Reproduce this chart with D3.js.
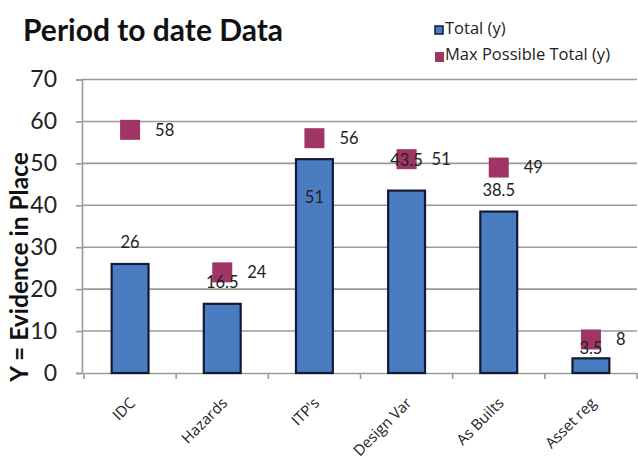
<!DOCTYPE html>
<html><head><meta charset="utf-8">
<script src="https://cdn.jsdelivr.net/npm/d3@7"></script>
<style>body{margin:0;background:#fff}svg{display:block}</style>
</head><body>
<script>
const categories = ["IDC","Hazards","ITP's","Design Var","As Builts","Asset reg"];
const totalValues = [26,16.5,51,43.5,38.5,3.5];
const maxValues = [58,24,56,51,49,8];
const yTicks = [0,10,20,30,40,50,60,70];
// label placement offsets (px) relative to bar top, mimicking the original
const totalLabelDy = [-22,-22,38,-30,-21,-10];

const W=638,H=463;
const svg=d3.select("body").append("svg").attr("width",W).attr("height",H);
const font="Lato, 'Open Sans', sans-serif";
const font2="'Open Sans', Lato, sans-serif";
const x=d3.scaleBand().domain(categories).range([84,637]).padding(0);
const y=d3.scaleLinear().domain([0,70]).range([373,79.5]);

// gridlines
svg.append("g").selectAll("line").data(yTicks.filter(d=>d>0)).join("line")
 .attr("x1",82).attr("x2",637).attr("y1",d=>y(d)).attr("y2",d=>y(d))
 .attr("stroke","#9a9a9a").attr("stroke-width",1.6);

// y axis
const ya=svg.append("g").attr("transform","translate(82,0)").call(d3.axisLeft(y).tickValues(yTicks).tickSize(6).tickPadding(19));
ya.select(".domain").attr("stroke","#9a9a9a").attr("stroke-width",1.6);
ya.selectAll(".tick line").attr("stroke","#9a9a9a").attr("stroke-width",1.6);
ya.selectAll("text").attr("font-family",font).attr("font-size",23).attr("fill","#222");

// x axis
const xa=svg.append("g").attr("transform","translate(0,373)").call(d3.axisBottom(x).tickSize(0).tickFormat(""));
xa.select(".domain").attr("stroke","#9a9a9a").attr("stroke-width",1.6);
const bounds=[...categories.map(c=>x(c)), x.range()[1]];
svg.append("g").selectAll("line").data(bounds).join("line")
 .attr("x1",d=>d).attr("x2",d=>d).attr("y1",373).attr("y2",379)
 .attr("stroke","#9a9a9a").attr("stroke-width",1.6);
svg.append("g").selectAll("text").data(categories).join("text")
 .attr("transform",d=>`translate(${x(d)+x.bandwidth()/2+6},404) rotate(-45)`)
 .attr("text-anchor","end").attr("font-family",font2).attr("font-size",15).attr("fill","#222")
 .text(d=>d);

// bars
const bw=x.bandwidth()*0.4;
svg.append("g").selectAll("rect").data(totalValues).join("rect")
 .attr("x",(d,i)=>x(categories[i])+x.bandwidth()/2-bw/2)
 .attr("y",d=>y(d)).attr("width",bw).attr("height",d=>y(0)-y(d))
 .attr("fill","#4a7cc1").attr("stroke","#141a33").attr("stroke-width",2.2);

// markers
const ms=20;
svg.append("g").selectAll("rect").data(maxValues).join("rect")
 .attr("x",(d,i)=>x(categories[i])+x.bandwidth()/2-ms/2)
 .attr("y",d=>y(d)-ms/2).attr("width",ms).attr("height",ms)
 .attr("fill","#a03565");

// total labels
svg.append("g").selectAll("text").data(totalValues).join("text")
 .attr("x",(d,i)=>x(categories[i])+x.bandwidth()/2)
 .attr("y",(d,i)=>y(d)+totalLabelDy[i]).attr("dy","0.35em")
 .attr("text-anchor","middle").attr("font-family",font).attr("font-size",16.5).attr("fill","#222")
 .text(d=>d);

// max labels
svg.append("g").selectAll("text").data(maxValues).join("text")
 .attr("x",(d,i)=>x(categories[i])+x.bandwidth()/2+25)
 .attr("y",d=>y(d)).attr("dy","0.35em")
 .attr("font-family",font).attr("font-size",16.5).attr("fill","#222")
 .text(d=>d);

// title
svg.append("text").attr("x",23).attr("y",41).attr("font-family",font).attr("font-weight","bold")
 .attr("font-size",30).attr("fill","#111").text("Period to date Data");

// y label
svg.append("text").attr("transform","translate(28,267) rotate(-90)").attr("text-anchor","middle")
 .attr("font-family",font).attr("font-weight","bold").attr("font-size",24.5).attr("fill","#111")
 .text("Y = Evidence in Place");

// legend
const leg=svg.append("g");
leg.append("rect").attr("x",435).attr("y",26).attr("width",8).attr("height",8).attr("fill","#4a7cc1").attr("stroke","#141a33").attr("stroke-width",1.5);
leg.append("text").attr("x",445).attr("y",34).attr("font-family",font2).attr("font-size",16.5).attr("fill","#222").text("Total (y)");
leg.append("rect").attr("x",435).attr("y",52).attr("width",9).attr("height",10).attr("fill","#a03565");
leg.append("text").attr("x",445).attr("y",60).attr("font-family",font2).attr("font-size",16.5).attr("fill","#222").text("Max Possible Total (y)");
</script>
</body></html>
